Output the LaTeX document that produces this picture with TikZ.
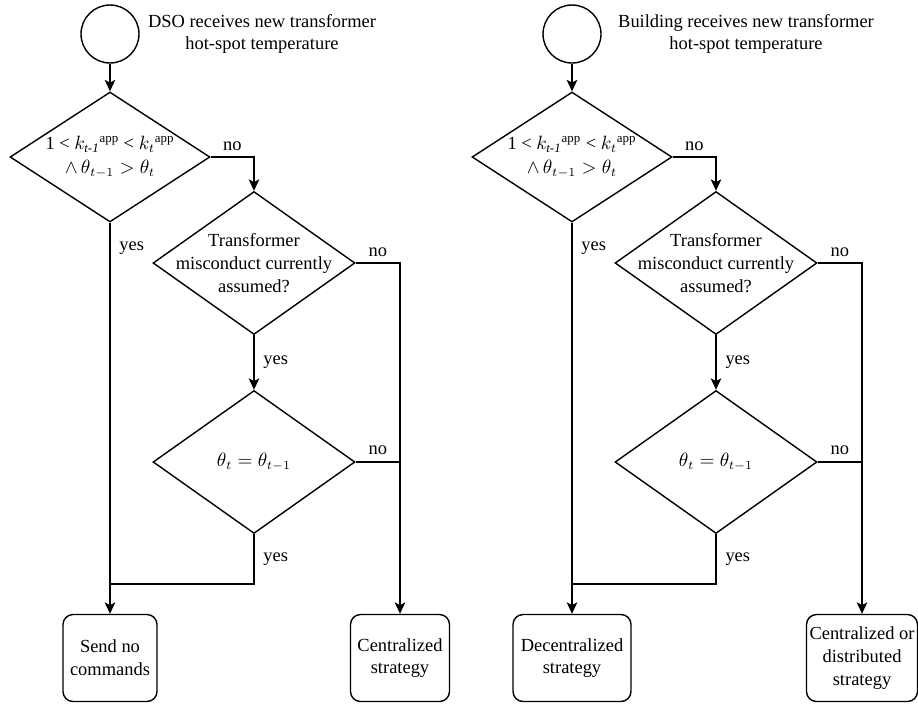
\documentclass[tikz,border=0pt]{standalone}
\usepackage{amsmath}
\usepackage{fontspec}
\setmainfont{Liberation Serif}
\usetikzlibrary{shapes.geometric,arrows.meta}

% condition of the first decision in each flow
\newcommand{\kcond}{1 < $k_{\textit{t-1}}{}^{\text{app}}$ < $k_t{}^{\text{app}}$\\[1pt]$\wedge\,\theta_{t-1} > \theta_t$}

\begin{document}
\begin{tikzpicture}[x=0.02cm,y=-0.02cm,
  font=\fontsize{10.5}{13}\selectfont,
  start/.style={circle,draw,line width=0.8pt,minimum size=1.16cm,inner sep=0pt},
  decbig/.style={diamond,draw,line width=0.8pt,inner sep=0pt,minimum width=4.04cm,minimum height=2.86cm},
  decsmall/.style={diamond,draw,line width=0.8pt,inner sep=0pt,minimum width=4cm,minimum height=2.6cm},
  dtext/.style={align=center,inner sep=0pt},
  endbox/.style={draw,rounded corners=0.2cm,line width=0.8pt,minimum height=1.74cm,align=center,inner sep=1pt},
  flow/.style={-{Stealth[length=6.5pt,width=6pt,inset=1.5pt]},line width=0.8pt},
  plain/.style={line width=0.8pt},
  lbl/.style={inner sep=1pt}]
\useasboundingbox (0,0) rectangle (918,704);

% ---------------- DSO side ----------------
\node[start] (c1) at (110,34) {};
\node[dtext] (t1) at (262,34) {DSO receives new transformer\\hot-spot temperature};

\node[decsmall] (d1) at (110,157) {};
\node[dtext] (d1t) at (d1.center) {\kcond};

\node[decbig] (d2) at (254,263) {};
\node[dtext] (d2t) at (d2.center) {Transformer\\misconduct currently\\assumed?};

\node[decbig] (d3) at (254,462) {};
\node[dtext] (d3t) at (d3.center) {$\theta_t=\theta_{t-1}$};

\node[endbox,minimum width=1.88cm] (b1) at (110,658) {Send no\\commands};
\node[endbox,minimum width=1.98cm] (b2) at (400,658) {Centralized\\strategy};
\coordinate (j1) at (110,584);

\draw[flow] (c1) -- (d1.north);
\draw[flow] (d1.east) -| node[lbl,pos=0.25,above=2pt] {no} (d2.north);
\draw[flow] (d1.south) -- node[lbl,pos=0.064,right=4pt] {yes} (b1.north);
\draw[flow] (d2.south) -- node[lbl,midway,right=4pt] {yes} (d3.north);
\draw[flow] (d2.east) -| node[lbl,pos=0.25,above=2pt] {no} (b2.north);
\draw[plain] (d3.east) -- node[lbl,midway,above=3pt] {no} (d3.east -| b2.north);
\draw[plain] (d3.south) |- node[lbl,pos=0.25,right=4pt] {yes} (j1);

% ---------------- Building side ----------------
\node[start] (c2) at (572,34) {};
\node[dtext] (t2) at (746,34) {Building receives new transformer\\hot-spot temperature};

\node[decsmall] (e1) at (572,157) {};
\node[dtext] (e1t) at (e1.center) {\kcond};

\node[decbig] (e2) at (716,263) {};
\node[dtext] (e2t) at (e2.center) {Transformer\\misconduct currently\\assumed?};

\node[decbig] (e3) at (716,462) {};
\node[dtext] (e3t) at (e3.center) {$\theta_t=\theta_{t-1}$};

\node[endbox,minimum width=2.36cm] (b3) at (572,658) {Decentralized\\strategy};
\node[endbox,minimum width=2.22cm] (b4) at (862,658) {Centralized or\\distributed\\strategy};
\coordinate (j2) at (572,584);

\draw[flow] (c2) -- (e1.north);
\draw[flow] (e1.east) -| node[lbl,pos=0.25,above=2pt] {no} (e2.north);
\draw[flow] (e1.south) -- node[lbl,pos=0.064,right=4pt] {yes} (b3.north);
\draw[flow] (e2.south) -- node[lbl,midway,right=4pt] {yes} (e3.north);
\draw[flow] (e2.east) -| node[lbl,pos=0.25,above=2pt] {no} (b4.north);
\draw[plain] (e3.east) -- node[lbl,midway,above=3pt] {no} (e3.east -| b4.north);
\draw[plain] (e3.south) |- node[lbl,pos=0.25,right=4pt] {yes} (j2);
\end{tikzpicture}
\end{document}
